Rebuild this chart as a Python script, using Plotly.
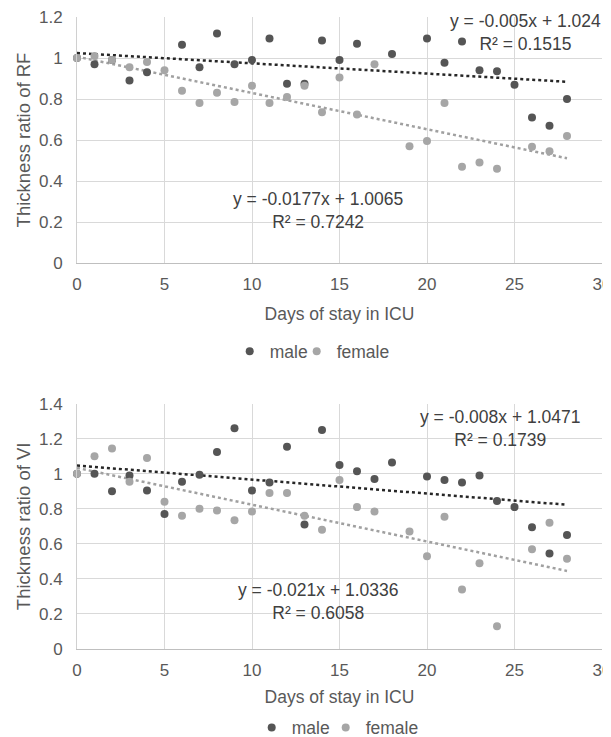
import plotly.graph_objects as go

# ---------------- data ----------------
days_rf_male = [0, 1, 2, 3, 4, 6, 7, 8, 9, 10, 11, 12, 13, 14, 15, 16, 18, 20, 21, 22, 23, 24, 25, 26, 27, 28]
rf_male = [1.0, 0.97, 0.99, 0.89, 0.93, 1.065, 0.955, 1.12, 0.97, 0.99, 1.095, 0.875, 0.875, 1.085, 0.99, 1.07,
           1.02, 1.095, 0.977, 1.08, 0.94, 0.935, 0.87, 0.71, 0.67, 0.80]
days_rf_female = [0, 1, 2, 3, 4, 5, 6, 7, 8, 9, 10, 11, 12, 13, 14, 15, 16, 17, 19, 20, 21, 22, 23, 24, 26, 27, 28]
rf_female = [1.0, 1.01, 0.99, 0.955, 0.98, 0.94, 0.84, 0.78, 0.83, 0.785, 0.865, 0.78, 0.81, 0.865, 0.735, 0.905,
             0.725, 0.97, 0.57, 0.595, 0.78, 0.47, 0.49, 0.46, 0.567, 0.545, 0.62]

days_vi_male = [0, 1, 2, 3, 4, 5, 6, 7, 8, 9, 10, 11, 12, 13, 14, 15, 16, 17, 18, 20, 21, 22, 23, 24, 25, 26, 27, 28]
vi_male = [1.0, 1.0, 0.90, 0.99, 0.905, 0.77, 0.955, 0.995, 1.125, 1.26, 0.905, 0.95, 1.155, 0.71, 1.25, 1.05,
           1.015, 0.97, 1.065, 0.985, 0.965, 0.95, 0.99, 0.845, 0.81, 0.695, 0.545, 0.65]
days_vi_female = [0, 1, 2, 3, 4, 5, 6, 7, 8, 9, 10, 11, 12, 13, 14, 15, 16, 17, 19, 20, 21, 22, 23, 24, 26, 27, 28]
vi_female = [1.0, 1.10, 1.145, 0.955, 1.09, 0.84, 0.76, 0.80, 0.79, 0.735, 0.785, 0.89, 0.89, 0.76, 0.68, 0.965,
             0.81, 0.785, 0.67, 0.53, 0.755, 0.34, 0.49, 0.13, 0.57, 0.72, 0.515]

# trendline coefficients (as printed on chart): slope, intercept
trend_rf_male = [-0.005, 1.024]
trend_rf_female = [-0.0177, 1.0065]
trend_vi_male = [-0.008, 1.0471]
trend_vi_female = [-0.021, 1.0336]
trend_x = [0, 28]

eq_rf_male = "y = -0.005x + 1.024<br>R² = 0.1515"
eq_rf_female = "y = -0.0177x + 1.0065<br>R² = 0.7242"
eq_vi_male = "y = -0.008x + 1.0471<br>R² = 0.1739"
eq_vi_female = "y = -0.021x + 1.0336<br>R² = 0.6058"

x_ticks = [0, 5, 10, 15, 20, 25, 30]
rf_ticks = [0, 0.2, 0.4, 0.6, 0.8, 1.0, 1.2]
rf_ticklabels = ["0", "0.2", "0.4", "0.6", "0.8", "1", "1.2"]
vi_ticks = [0, 0.2, 0.4, 0.6, 0.8, 1.0, 1.2, 1.4]
vi_ticklabels = ["0", "0.2", "0.4", "0.6", "0.8", "1", "1.2", "1.4"]

# ---------------- styles ----------------
MALE = "#555555"
FEMALE = "#a6a6a6"
MALE_TREND = "#262626"
FEMALE_TREND = "#a0a0a0"
FONT = "Liberation Sans, Arial, sans-serif"
TXT = "#595959"
GRID = "#d9d9d9"

OFF = 8                      # default page body margin of the html page
W, H = 611 - OFF, 737 - OFF  # figure size so it fills the window
# plot-area bounds in window pixels
PL, PR, PT, PB = 77.3, 602.3, 17.3, 649.3
PW, PH = PR - PL, PB - PT


def px_x(px):
    return (px - PL) / PW


def px_y(py):
    return (PB - py) / PH


def line_y(coef):
    return [coef[0] * x + coef[1] for x in trend_x]


fig = go.Figure()

# top chart (RF)
fig.add_trace(go.Scatter(x=trend_x, y=line_y(trend_rf_male), mode="lines",
                         line=dict(color=MALE_TREND, width=2.5, dash="dot"),
                         showlegend=False, xaxis="x", yaxis="y", hoverinfo="skip"))
fig.add_trace(go.Scatter(x=trend_x, y=line_y(trend_rf_female), mode="lines",
                         line=dict(color=FEMALE_TREND, width=2.5, dash="dot"),
                         showlegend=False, xaxis="x", yaxis="y", hoverinfo="skip"))
fig.add_trace(go.Scatter(x=days_rf_male, y=rf_male, mode="markers", name="male",
                         marker=dict(color=MALE, size=8), cliponaxis=False, legendwidth=22,
                         xaxis="x", yaxis="y", legend="legend"))
fig.add_trace(go.Scatter(x=days_rf_female, y=rf_female, mode="markers", name="female",
                         marker=dict(color=FEMALE, size=8), cliponaxis=False, legendwidth=60,
                         xaxis="x", yaxis="y", legend="legend"))

# bottom chart (VI)
fig.add_trace(go.Scatter(x=trend_x, y=line_y(trend_vi_male), mode="lines",
                         line=dict(color=MALE_TREND, width=2.5, dash="dot"),
                         showlegend=False, xaxis="x2", yaxis="y2", hoverinfo="skip"))
fig.add_trace(go.Scatter(x=trend_x, y=line_y(trend_vi_female), mode="lines",
                         line=dict(color=FEMALE_TREND, width=2.5, dash="dot"),
                         showlegend=False, xaxis="x2", yaxis="y2", hoverinfo="skip"))
fig.add_trace(go.Scatter(x=days_vi_male, y=vi_male, mode="markers", name="male",
                         marker=dict(color=MALE, size=8), cliponaxis=False, legendwidth=29,
                         xaxis="x2", yaxis="y2", legend="legend2"))
fig.add_trace(go.Scatter(x=days_vi_female, y=vi_female, mode="markers", name="female",
                         marker=dict(color=FEMALE, size=8), cliponaxis=False, legendwidth=60,
                         xaxis="x2", yaxis="y2", legend="legend2"))

xaxis_common = dict(range=[0, 30], tickvals=x_ticks, showgrid=True, gridcolor=GRID, gridwidth=1,
                    zeroline=False, showline=True, linecolor="#bfbfbf", linewidth=1, automargin=False,
                    ticklabeloverflow="allow",
                    tickfont=dict(family=FONT, size=17, color=TXT), ticks="", ticklabelstandoff=6)
yaxis_common = dict(showgrid=True, gridcolor=GRID, gridwidth=1, zeroline=False, automargin=False,
                    showline=True, linecolor="#d0d0d0", linewidth=1, ticklabeloverflow="allow",
                    tickfont=dict(family=FONT, size=17, color=TXT), ticks="", ticklabelstandoff=10)

fig.update_layout(
    width=W, height=H,
    margin=dict(l=PL - OFF, r=611 - PR, t=PT - OFF, b=737 - PB, pad=0, autoexpand=False),
    paper_bgcolor="white", plot_bgcolor="white",
    font=dict(family=FONT, size=17, color=TXT),
    xaxis=dict(domain=[0, 1], anchor="y",
               title=dict(text="Days of stay in ICU", font=dict(family=FONT, size=17.5, color=TXT), standoff=14),
               **xaxis_common),
    yaxis=dict(domain=[px_y(263.3), 1.0], anchor="x", range=[0, 1.2], tickvals=rf_ticks, ticktext=rf_ticklabels,
               title=dict(text="Thickness ratio of RF", font=dict(family=FONT, size=18.5, color=TXT), standoff=3),
               **yaxis_common),
    xaxis2=dict(domain=[0, 1], anchor="y2",
                title=dict(text="Days of stay in ICU", font=dict(family=FONT, size=17.5, color=TXT), standoff=11),
                **xaxis_common),
    yaxis2=dict(domain=[0, px_y(404.0)], anchor="x2", range=[0, 1.4], tickvals=vi_ticks, ticktext=vi_ticklabels,
                title=dict(text="Thickness ratio of VI", font=dict(family=FONT, size=18.5, color=TXT), standoff=3),
                **yaxis_common),
    legend=dict(orientation="h", x=px_x(230), xanchor="left", y=px_y(351.7), yanchor="middle",
                font=dict(family=FONT, size=17.5, color=TXT), itemwidth=30,
                bgcolor="rgba(0,0,0,0)"),
    legend2=dict(orientation="h", x=px_x(252), xanchor="left", y=px_y(728), yanchor="middle",
                 font=dict(family=FONT, size=17.5, color=TXT), itemwidth=30,
                 bgcolor="rgba(0,0,0,0)"),
    showlegend=True,
)

ann_font = dict(family=FONT, size=17.5, color="#404040")
annotations = [
    (eq_rf_male, 525.5, 33),
    (eq_rf_female, 318, 211),
    (eq_vi_male, 500.5, 428.3),
    (eq_vi_female, 319, 601.7),
]
for text, px, py in annotations:
    fig.add_annotation(x=px_x(px), y=px_y(py), xref="paper", yref="paper",
                       text=text, showarrow=False, font=ann_font, align="center",
                       xanchor="center", yanchor="middle")

fig.write_html("out.html")
